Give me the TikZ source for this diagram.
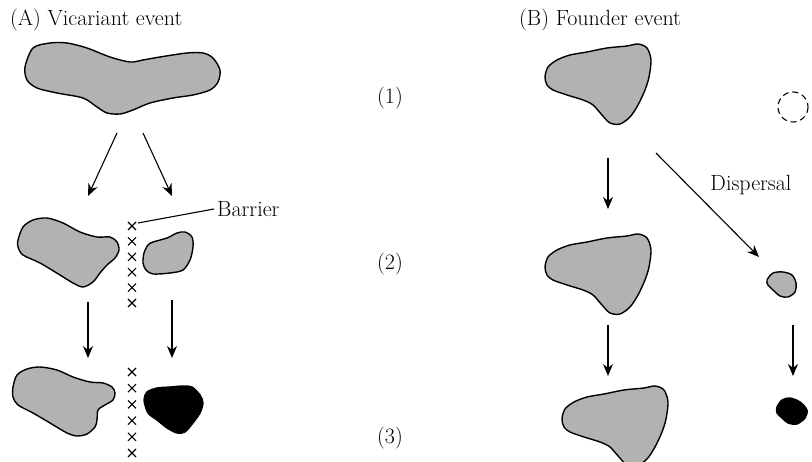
\documentclass[tikz,border=0pt]{standalone}
\usetikzlibrary{arrows.meta}
\tikzset{
	island/.style={draw=black, line width=1.4pt, fill=black!30},
	newisland/.style={draw=black, line width=1.4pt, fill=black},
	move/.style={line width=1.1pt, -{Stealth[length=12pt,width=10pt]}},
	txt/.style={font=\fontsize{22}{26}\selectfont, inner sep=0pt},
}
\begin{document}
\begin{tikzpicture}[x=1pt,y=-1pt]
		\useasboundingbox (0,0) rectangle (812,462);
		\newcommand{\barx}[1]{\draw[line width=1.1pt,shift={#1}] (-4,-4)--(4,4) (-4,4)--(4,-4);}
		\newcommand{\founder}[1]{\draw[island,shift={#1}] plot[smooth cycle,tension=0.5] coordinates {(545,77) (548,67) (557,60) (570,55) (587,52) (607,48) (627,46) (638,44) (647,48) (651,60) (649,77) (645,90) (638,105) (630,117) (620,124) (610,123) (602,115) (593,105) (583,100) (567,95) (553,90) (547,85)};}
		
		\node[txt,anchor=base west] (titleA) at (10,26) {(A) Vicariant event};
		\node[txt,anchor=base west] (titleB) at (519,26) {(B) Founder event};
		\node[txt,anchor=base west] (step1) at (377,104) {(1)};
		\node[txt,anchor=base west] (step2) at (377,270) {(2)};
		\node[txt,anchor=base west] (step3) at (377,443) {(3)};
		
		% vicariant event
		\draw[island] plot[smooth cycle,tension=0.5] coordinates {(25,67) (33,48) (50,43) (67,43) (87,48) (110,57) (130,62) (143,60) (160,57) (187,53) (203,53) (213,58) (220,70) (218,82) (210,90) (193,95) (173,98) (150,103) (133,110) (120,114) (107,113) (97,107) (83,98) (57,93) (37,88) (27,80)};
		\draw[island] plot[smooth cycle,tension=0.5] coordinates {(18,240) (23,227) (33,220) (47,218) (63,223) (80,232) (97,237) (110,237) (117,242) (119,250) (115,258) (107,265) (100,273) (93,282) (83,287) (73,283) (60,275) (40,263) (23,255) (18,247)};
		\draw[island] plot[smooth cycle,tension=0.5] coordinates {(143,263) (144,253) (148,245) (153,242) (167,238) (177,233) (185,232) (192,237) (193,247) (190,260) (183,270) (170,273) (153,274) (146,270)};
		\draw[island] plot[smooth cycle,tension=0.5] coordinates {(13,387) (17,375) (27,369) (40,367) (57,370) (73,377) (90,382) (103,383) (112,387) (115,393) (113,400) (105,405) (98,410) (97,420) (95,427) (87,434) (77,436) (67,433) (50,423) (33,413) (18,405) (13,397)};
		\draw[newisland] plot[smooth cycle,tension=0.5] coordinates {(144,400) (147,392) (157,388) (170,387) (183,386) (192,387) (200,395) (203,403) (200,413) (193,423) (185,432) (177,433) (167,428) (157,420) (148,413)};
		
		\foreach \i in {0,...,5} {\barx{(132,{226+15.4*\i})}}
		\foreach \i in {0,...,5} {\barx{(132,{372+16.2*\i})}}
		\coordinate (X) at (138,223);
		\node[txt,anchor=west,inner sep=3pt] (barrier) at (214,209) {Barrier};
		\draw[line width=1.1pt] (X)--(barrier.west);
		
		\coordinate (A1) at (117,133); \coordinate (A2) at (88,196);
		\coordinate (B1) at (143,133); \coordinate (B2) at (172,196);
		\coordinate (C1) at (88,302);  \coordinate (C2) at (88,358);
		\coordinate (D1) at (172,300); \coordinate (D2) at (172,358);
		\draw[move] (A1)--(A2);
		\draw[move] (B1)--(B2);
		\draw[move] (C1)--(C2);
		\draw[move] (D1)--(D2);
		
		% founder event
		\founder{(0,0)}
		\founder{(0,190)}
		\founder{(17,342)}
		\draw[dashed,dash pattern=on 6pt off 4pt,line width=1.1pt] (793,107) circle (15);
		\draw[island] plot[smooth cycle,tension=0.5] coordinates {(767,280) (773,273) (783,272) (792,275) (796,283) (795,292) (788,297) (780,296) (773,290) (768,285)};
		\draw[newisland] plot[smooth cycle,tension=0.5] coordinates {(777,407) (782,400) (790,398) (800,402) (807,410) (805,418) (797,424) (788,423) (782,418) (777,413)};
		
		\coordinate (E1) at (608,158); \coordinate (E2) at (608,209);
		\coordinate (F1) at (656,153); \coordinate (F2) at (759,257);
		\coordinate (G1) at (608,325); \coordinate (G2) at (608,376);
		\coordinate (H1) at (793,325); \coordinate (H2) at (793,376);
		\draw[move] (E1)--(E2);
		\draw[move] (F1)--(F2) node[txt,pos=0.31,anchor=west,xshift=22pt] (dispersal) {Dispersal};
		\draw[move] (G1)--(G2);
		\draw[move] (H1)--(H2);
	\end{tikzpicture}
\end{document}
